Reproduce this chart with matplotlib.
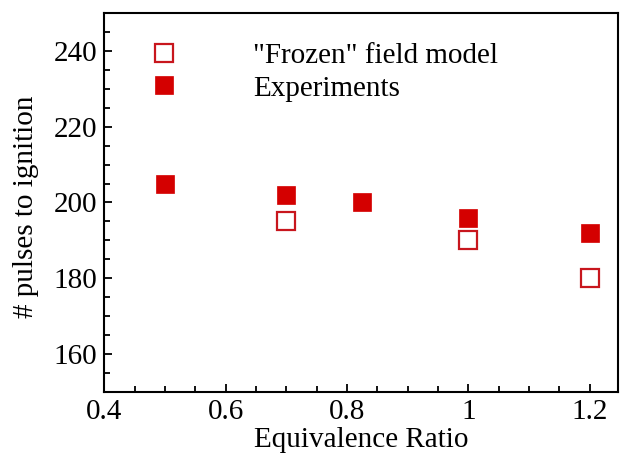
import matplotlib.pyplot as plt
from matplotlib.ticker import MultipleLocator

plt.rcParams['font.family'] = ['Liberation Serif', 'DejaVu Serif']

# ignition data
phi_exp = [0.5, 0.7, 0.825, 1.0, 1.2]
pulses_exp = [205, 202, 200, 196, 192]
phi_model = [0.7, 1.0, 1.2]
pulses_model = [195, 190, 180]

fig = plt.figure(figsize=(6.2, 4.53), dpi=100)
ax = fig.add_axes([0.168, 0.135, 0.829, 0.836])

ax.plot(phi_model, pulses_model, 's', ms=13, mfc='white', mec='#c8161d',
        mew=1.6, ls='none', label='"Frozen" field model')
ax.plot(phi_exp, pulses_exp, 's', ms=13, mfc='#d40000', mec='#d40000',
        mew=0.5, ls='none', label='Experiments')

ax.set_xlim(0.4, 1.247)
ax.set_ylim(150, 250)
ax.xaxis.set_minor_locator(MultipleLocator(0.05))
ax.yaxis.set_minor_locator(MultipleLocator(5))
ax.set_xticks([0.4, 0.6, 0.8, 1.0, 1.2], ['0.4', '0.6', '0.8', '1', '1.2'])
ax.set_yticks([160, 180, 200, 220, 240])

ax.tick_params(which='both', direction='in', labelsize=21, width=1.3)
ax.tick_params(which='major', length=6, pad=5)
ax.tick_params(which='minor', length=4)
for s in ax.spines.values():
    s.set_linewidth(1.5)

ax.set_xlabel('Equivalence Ratio', fontsize=21)
ax.set_ylabel('# pulses to ignition', fontsize=21)
ax.xaxis.set_label_coords(0.5, -0.094)
ax.yaxis.set_label_coords(-0.126, 0.488)

ax.legend(loc='upper left', bbox_to_anchor=(0.0366, 0.953), frameon=False,
          fontsize=21, handletextpad=2.06, labelspacing=0.21, borderaxespad=0)

fig.savefig('out.png', dpi=100)
